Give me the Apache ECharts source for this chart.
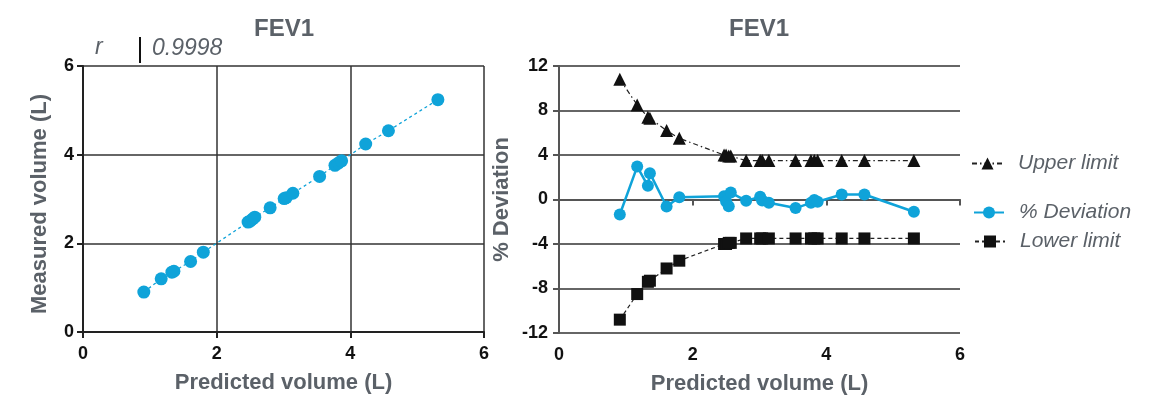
<!DOCTYPE html>
<html><head><meta charset="utf-8">
<script src="https://cdn.jsdelivr.net/npm/echarts@6/dist/echarts.min.js"></script>
<style>html,body{margin:0;padding:0;background:#fff}#c{width:1159px;height:396px}</style>
</head><body><div id="c"></div>
<script>
// ---- data ----
const predicted = [0.91,1.17,1.33,1.36,1.61,1.80,2.47,2.50,2.54,2.57,2.80,3.01,3.04,3.14,3.54,3.77,3.82,3.87,4.23,4.57,5.31];
const measured  = [0.90,1.20,1.35,1.37,1.59,1.80,2.48,2.50,2.55,2.59,2.80,3.01,3.03,3.13,3.51,3.76,3.81,3.86,4.24,4.54,5.24];
const deviation = [-1.35,2.96,1.23,2.37,-0.63,0.21,0.30,-0.18,-0.60,0.62,-0.12,0.25,-0.10,-0.30,-0.77,-0.30,-0.05,-0.20,0.45,0.45,-1.10];
const upperLimit = [10.8,8.5,7.4,7.3,6.2,5.5,4.0,4.0,3.9,3.9,3.5,3.5,3.5,3.5,3.5,3.5,3.5,3.5,3.5,3.5,3.5];
const lowerLimit = [-10.8,-8.5,-7.4,-7.3,-6.2,-5.5,-4.0,-4.0,-3.9,-3.9,-3.5,-3.5,-3.5,-3.5,-3.5,-3.5,-3.5,-3.5,-3.5,-3.5,-3.5];
const titles = ['FEV1','FEV1'];
const rLabel = 'r';
const rValue = '0.9998';
const xName = 'Predicted volume (L)';
const yNameLeft = 'Measured volume (L)';
const yNameRight = '% Deviation';
const legendNames = ['Upper limit','% Deviation','Lower limit'];

const pairs = (xs, ys) => xs.map((x,i)=>[x, ys[i]]);
const FONT = 'Liberation Sans, Arial, Helvetica, sans-serif';
const GREY = '#5b6168';
const BLUE = '#0fa3d9';
const tickLbl = {color:'#111', fontWeight:'bold', fontSize:18, fontFamily:FONT};
const nameStyle = {color:GREY, fontWeight:'bold', fontSize:22, fontFamily:FONT};
const legText = {color:GREY, fontStyle:'italic', fontSize:21, fontFamily:FONT, padding:[0,0,0,10]};

const chart = echarts.init(document.getElementById('c'), null, {renderer:'canvas'});
chart.setOption({
  animation:false,
  backgroundColor:'#fff',
  title:[
    {text:titles[0], left:279, top:12, textAlign:'center', textStyle:{color:GREY, fontWeight:'bold', fontSize:24, fontFamily:FONT}},
    {text:titles[1], left:754, top:12, textAlign:'center', textStyle:{color:GREY, fontWeight:'bold', fontSize:24, fontFamily:FONT}}
  ],
  graphic:[
    {type:'text', left:95, top:36, style:{text:rLabel, fill:GREY, font:'italic 23px '+FONT}},
    {type:'line', shape:{x1:140,y1:37,x2:140,y2:63}, style:{stroke:'#111', lineWidth:2}},
    {type:'text', left:152, top:37, style:{text:rValue, fill:GREY, font:'italic 23px '+FONT}}
  ],
  legend:[
    {data:[legendNames[0]], left:966, top:148, orient:'vertical', selectedMode:false, itemWidth:31, itemHeight:15, textStyle:legText},
    {data:[legendNames[1]], left:968, top:197, orient:'vertical', selectedMode:false, itemWidth:30, itemHeight:15, textStyle:legText},
    {data:[legendNames[2]], left:969, top:226, orient:'vertical', selectedMode:false, itemWidth:30, itemHeight:15, textStyle:legText}
  ],
  grid:[
    {left:83, right:675, top:66, bottom:64, containLabel:false, outerBoundsMode:'none'},
    {left:559, right:199, top:66, bottom:63, containLabel:false, outerBoundsMode:'none'}
  ],
  xAxis:[
    {type:'value', gridIndex:0, min:0, max:6, interval:2,
     name:xName, nameLocation:'middle', nameGap:40, nameTextStyle:nameStyle,
     axisLine:{show:true, lineStyle:{color:'#222', width:2}},
     axisTick:{show:true, length:6, lineStyle:{color:'#222', width:2}},
     axisLabel:Object.assign({margin:13}, tickLbl),
     splitLine:{show:true, lineStyle:{color:'#333', width:1.5}}},
    {type:'value', gridIndex:1, min:0, max:6, interval:2,
     name:xName, nameLocation:'middle', nameGap:40, nameTextStyle:nameStyle,
     axisLine:{show:true, lineStyle:{color:'#555', width:2}},
     axisTick:{show:true, length:6, lineStyle:{color:'#555', width:2}},
     axisLabel:Object.assign({margin:13}, tickLbl),
     splitLine:{show:false}}
  ],
  yAxis:[
    {type:'value', gridIndex:0, min:0, max:6, interval:2,
     name:yNameLeft, nameLocation:'middle', nameGap:32,
     nameTextStyle:Object.assign({padding:[0,10,0,0]}, nameStyle),
     axisLine:{show:true, lineStyle:{color:'#222', width:2}},
     axisTick:{show:true, length:6, lineStyle:{color:'#222', width:2}},
     axisLabel:Object.assign({margin:9}, tickLbl),
     splitLine:{show:true, lineStyle:{color:'#333', width:1.5}}},
    {type:'value', gridIndex:1, min:-12, max:12, interval:4,
     name:yNameRight, nameLocation:'middle', nameGap:46, nameTextStyle:nameStyle,
     axisLine:{show:true, lineStyle:{color:'#555', width:2}},
     axisTick:{show:true, length:6, lineStyle:{color:'#555', width:2}},
     axisLabel:Object.assign({margin:11}, tickLbl),
     splitLine:{show:true, lineStyle:{color:'#333', width:1.5}}}
  ],
  series:[
    {name:'Measured', type:'line', xAxisIndex:0, yAxisIndex:0, data:pairs(predicted, measured),
     symbol:'circle', symbolSize:13, itemStyle:{color:BLUE},
     lineStyle:{color:BLUE, width:1.3, type:[3,3]}, z:3},
    {name:legendNames[0], type:'line', xAxisIndex:1, yAxisIndex:1, data:pairs(predicted, upperLimit),
     symbol:'triangle', symbolSize:13, itemStyle:{color:'#111'},
     lineStyle:{color:'#222', width:1.2, type:[5,3,1.5,3]}, z:3},
    {name:legendNames[1], type:'line', xAxisIndex:1, yAxisIndex:1, data:pairs(predicted, deviation),
     symbol:'circle', symbolSize:12, itemStyle:{color:BLUE},
     lineStyle:{color:BLUE, width:2.5}, z:4},
    {name:legendNames[2], type:'line', xAxisIndex:1, yAxisIndex:1, data:pairs(predicted, lowerLimit),
     symbol:'rect', symbolSize:12, itemStyle:{color:'#111'},
     lineStyle:{color:'#222', width:1.2, type:[4,3]}, z:3}
  ]
});
</script>
</body></html>
